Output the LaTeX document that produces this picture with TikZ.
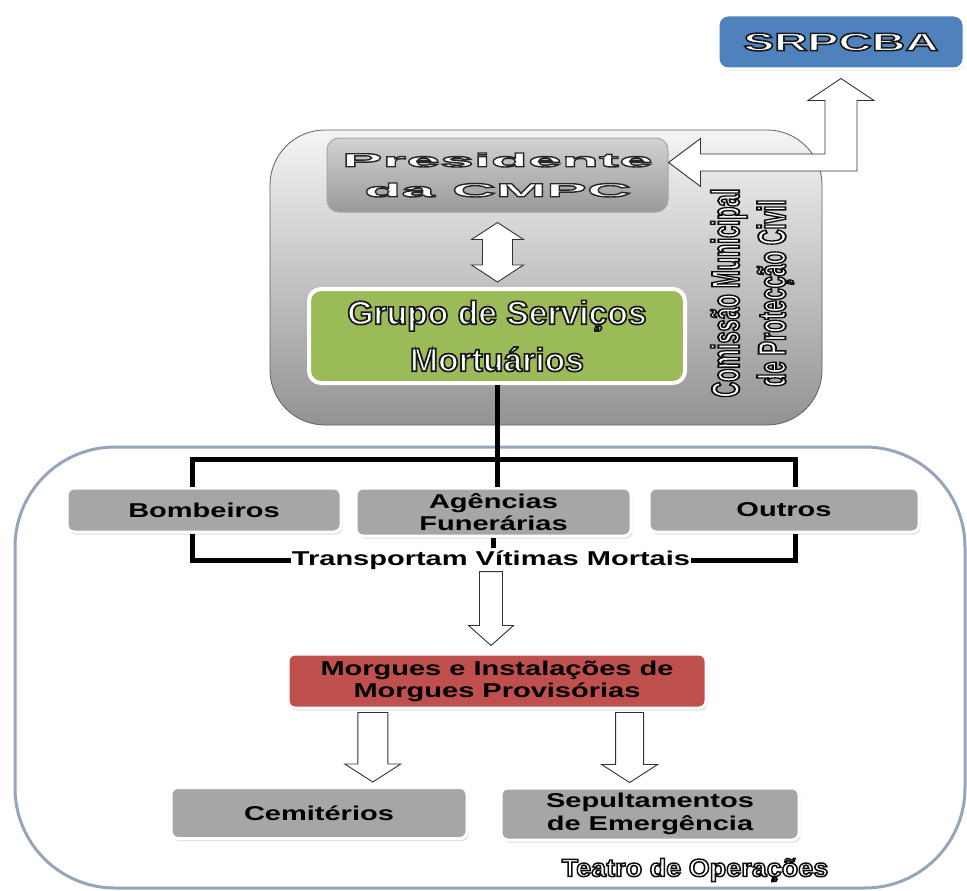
\documentclass[tikz,border=0pt]{standalone}
\usepackage{fontspec}
\usepackage{graphicx}
\setmainfont{Liberation Sans}
\newfontfamily\boxfont[FakeStretch=1.45]{Liberation Sans}
\newfontfamily\widefont[FakeStretch=3.2]{Liberation Sans}
\newfontfamily\srfont[FakeStretch=1.85]{Liberation Sans}
\newfontfamily\grupofont[FakeStretch=1.02]{Liberation Sans}
\newfontfamily\sidefont[FakeStretch=0.8]{Liberation Sans}
\newfontfamily\teatrofont[FakeStretch=1.08]{Liberation Sans}
\usetikzlibrary{calc,shadows}

\definecolor{boxgray}{RGB}{166,166,166}
\definecolor{srblue}{RGB}{79,129,189}
\definecolor{grupogreen}{RGB}{155,187,89}
\definecolor{morguered}{RGB}{192,80,77}
\definecolor{framegray}{RGB}{150,165,185}
\definecolor{shadowblue}{RGB}{180,192,210}

% outlined text: stroke grey level, stroke width, text
\newcommand{\outl}[3]{\special{pdf:literal direct q #1 G #2 w 2 Tr}#3\special{pdf:literal direct Q}}
% block arrow pointing down: from, to, shaft half, head half, head length
\newcommand{\blockdown}[5]{%
  \draw[blockarrow] let \p1=(#1), \p2=(#2) in
    (\x1-#3,\y1) -- (\x1+#3,\y1) -- (\x1+#3,\y2+#5) -- (\x1+#4,\y2+#5) -- (\x1,\y2)
    -- (\x1-#4,\y2+#5) -- (\x1-#3,\y2+#5) -- cycle;}
% block arrow with two heads, vertical
\newcommand{\blockboth}[5]{%
  \draw[blockarrow] let \p1=(#1), \p2=(#2) in
    (\x1,\y1) -- (\x1+#4,\y1-#5) -- (\x1+#3,\y1-#5) -- (\x1+#3,\y2+#5) -- (\x1+#4,\y2+#5)
    -- (\x1,\y2) -- (\x1-#4,\y2+#5) -- (\x1-#3,\y2+#5) -- (\x1-#3,\y1-#5) -- (\x1-#4,\y1-#5) -- cycle;}

\begin{document}
\begin{tikzpicture}[x=1pt,y=-1pt,
  graybox/.style={rectangle,rounded corners=7pt,fill=boxgray,draw=white,line width=3pt,
    drop shadow={shadow xshift=1.5pt,shadow yshift=-2.5pt,fill=shadowblue},
    font=\boxfont\bfseries\fontsize{20}{22}\selectfont,align=center,inner sep=0pt},
  link/.style={line width=5pt,black},
  blockarrow/.style={fill=white,draw=black!80,line width=0.9pt,line join=miter}]

\useasboundingbox (0,0) rectangle (967,891);

% teatro de operacoes
\node[rectangle,rounded corners=100pt,draw=framegray,line width=3pt,fill=white,
  minimum width=950pt,minimum height=441pt] (teatro) at (490,667.5) {};

% comissao municipal
\node[rectangle,rounded corners=55pt,top color=gray!8,bottom color=gray!85,
  draw=gray!75!black,line width=0.8pt,minimum width=552pt,minimum height=295pt] (cmpc) at (546,277.5) {};
\node[rectangle,rounded corners=12pt,top color=gray!35,bottom color=gray!80,draw=gray!70,
  line width=1pt,minimum width=341pt,minimum height=74pt,text=white,align=center,
  font=\widefont\bfseries\fontsize{19}{30}\selectfont] (pres) at (497.5,175)
  {\outl{0.15}{1.4}{Presidente}\\\outl{0.15}{1.4}{da CMPC}};
\node[rectangle,rounded corners=12pt,fill=grupogreen,draw=white,line width=4pt,
  drop shadow={shadow xshift=1pt,shadow yshift=-2pt,fill=gray!70},
  minimum width=376pt,minimum height=94pt,text=white,align=center,
  font=\grupofont\bfseries\fontsize{33}{47}\selectfont] (grupo) at (497,336)
  {\outl{0.1}{1.7}{Grupo de Serviços}\\\outl{0.1}{1.7}{Mortuários}};
\node[rotate=90,text=white,inner sep=0pt,font=\sidefont\bfseries\fontsize{27}{32}\selectfont] (cmpclabel) at (753,293)
  {\scalebox{1}[1.45]{\begin{tabular}{@{}c@{}}\outl{0.05}{1.3}{Comissão Municipal}\\\outl{0.05}{1.3}{de Protecção Civil}\end{tabular}}};

% SRPCBA
\node[rectangle,rounded corners=10pt,fill=srblue,draw=white,line width=3pt,
  drop shadow={shadow xshift=1pt,shadow yshift=-2pt,fill=gray!50},
  minimum width=246pt,minimum height=54pt,text=white,
  font=\srfont\bfseries\fontsize{25}{28}\selectfont] (srpcba) at (841,42)
  {\outl{0.1}{1.6}{SRPCBA}};

% entidades
\node[graybox,minimum width=274pt,minimum height=44pt] (bomb) at (204,510) {Bombeiros};
\node[graybox,minimum width=275pt,minimum height=48pt] (agen) at (493.5,512) {Agências\\Funerárias};
\node[graybox,minimum width=270pt,minimum height=44pt] (outros) at (784,510) {Outros};
\node[fill=white,inner xsep=1pt,inner ysep=2pt,font=\boxfont\bfseries\fontsize{20}{22}\selectfont]
  (transp) at (491,560) {Transportam Vítimas Mortais};

\node[graybox,fill=morguered,minimum width=418pt,minimum height=54pt] (morgues) at (497,681)
  {Morgues e Instalações de\\Morgues Provisórias};
\node[graybox,minimum width=296pt,minimum height=51pt] (cemit) at (319,813) {Cemitérios};
\node[graybox,minimum width=298pt,minimum height=52pt,font=\boxfont\bfseries\fontsize{20}{23}\selectfont]
  (sepult) at (650,814) {Sepultamentos\\de Emergência};

\node[text=white,font=\teatrofont\bfseries\fontsize{25}{28}\selectfont] (teatrolabel) at (695,870)
  {\outl{0.05}{1.5}{Teatro de Operações}};

% ligacoes
\draw[link] (grupo.south) -- (grupo.south |- agen.north);
\draw[link] ([xshift=-12pt]bomb.north) |- ([yshift=27pt]agen.north) -| ([xshift=11pt]outros.north);
\draw[link] ([xshift=-12pt]bomb.south) |- (transp.west);
\draw[link] ([xshift=11pt]outros.south) |- (transp.east);
\draw[link] (agen.south) -- ++(0,10);

% setas
\blockboth{[yshift=-10pt]pres.south}{[yshift=5pt]grupo.north}{15pt}{26pt}{17pt}
\blockdown{transp.south}{[yshift=7pt]morgues.north}{11.5pt}{22.5pt}{20pt}
\blockdown{[yshift=-3pt]$(morgues.south west)!0.205!(morgues.south east)$}{[yshift=4pt]cemit.north}{15pt}{28pt}{18pt}
\blockdown{[yshift=-3pt]$(morgues.south west)!0.815!(morgues.south east)$}{[yshift=4pt]sepult.north}{14pt}{28pt}{18pt}
\draw[blockarrow] let \p1=([yshift=12.5pt]pres.east), \p2=([yshift=-8pt]srpcba.south) in
  (\x1,\y1) -- (\x1+32pt,\y1+24pt) -- (\x1+32pt,\y1+8.5pt) -- (\x2-16pt,\y1+8.5pt)
  -- (\x2-16pt,\y2-22pt) -- (\x2-33pt,\y2-22pt) -- (\x2,\y2) -- (\x2+33pt,\y2-22pt)
  -- (\x2+16pt,\y2-22pt) -- (\x2+16pt,\y1-8.5pt) -- (\x1+32pt,\y1-8.5pt) -- (\x1+32pt,\y1-24pt) -- cycle;
\end{tikzpicture}
\end{document}
